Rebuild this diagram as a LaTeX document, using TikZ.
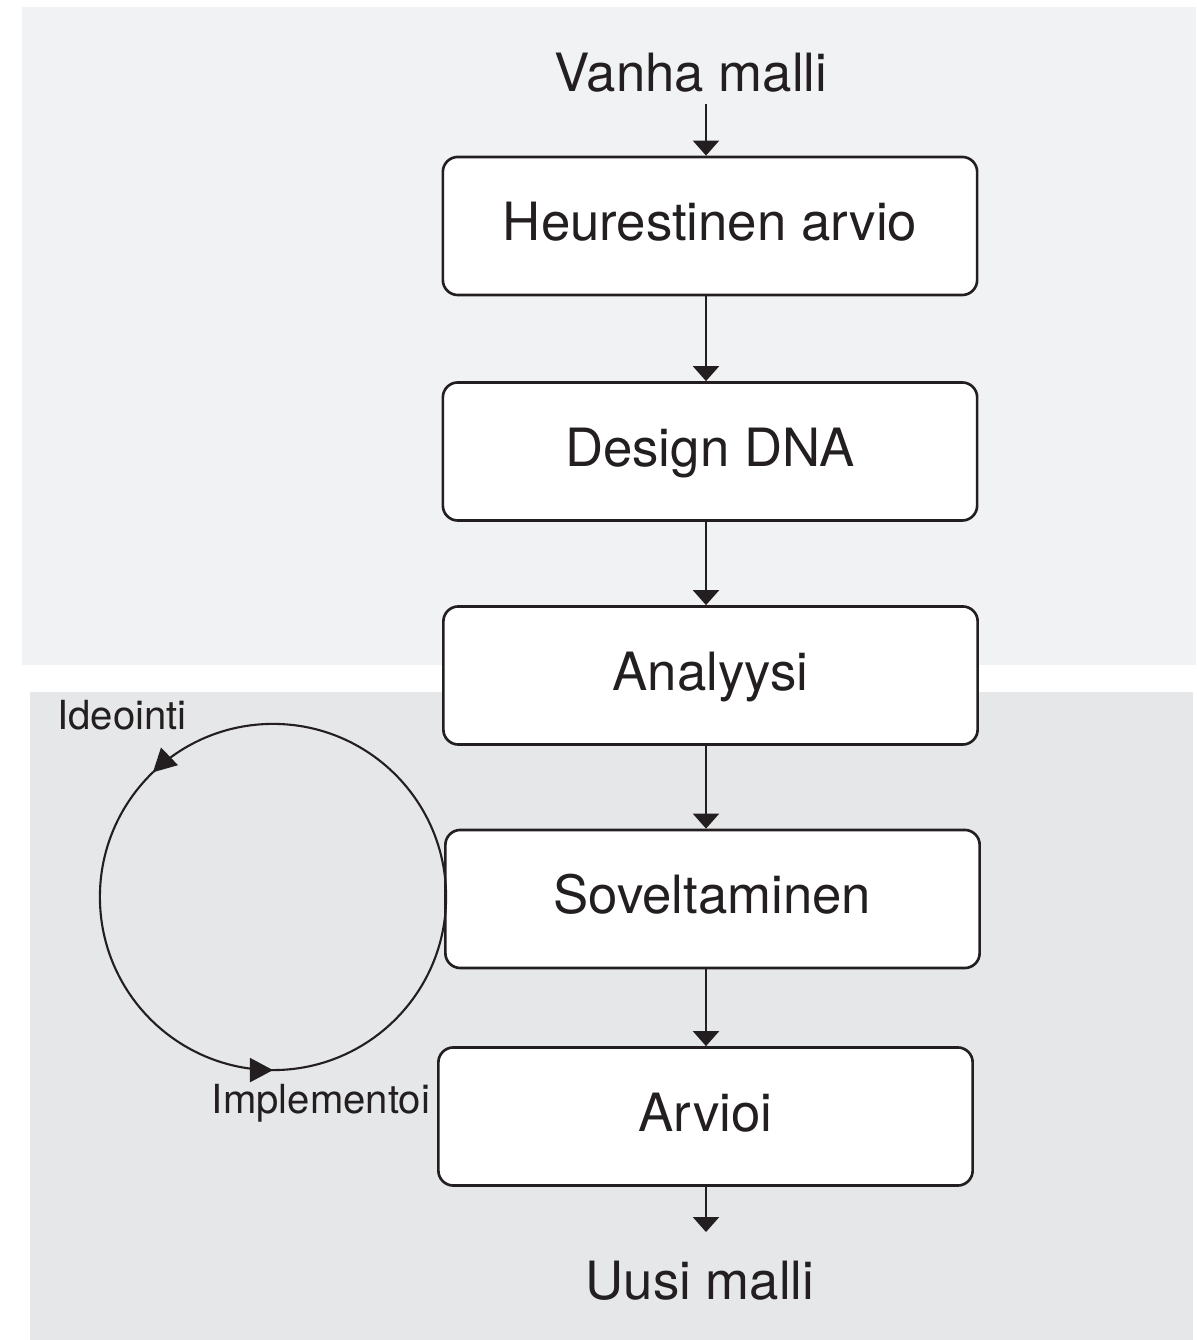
\documentclass[tikz,border=0pt]{standalone}
\usepackage{fontspec}
\setmainfont{TeX Gyre Heros}
\usepackage{xcolor}
\usepackage{tikz}
\usetikzlibrary{positioning,arrows.meta,calc,decorations.markings}
\definecolor{inkcolor}{RGB}{35,31,32}
\definecolor{upperbg}{RGB}{241,242,244}
\definecolor{lowerbg}{RGB}{230,231,233}
\tikzset{
    stage box/.style={rectangle, rounded corners=0.15cm, draw=inkcolor, line width=0.75pt, fill=white, minimum width=5.34cm, minimum height=1.38cm, inner sep=0pt, text height=0.85em, text depth=0pt, text=inkcolor, font=\fontsize{15}{18}\selectfont},
    model label/.style={text depth=0pt, text=inkcolor, font=\fontsize{15}{18}\selectfont},
    loop label/.style={text=inkcolor, font=\fontsize{11.4}{13.5}\selectfont},
    flow arrow/.style={-{Triangle[width=0.26cm, length=0.15cm]}, line width=0.65pt, color=inkcolor},
    loop circle/.style={line width=0.6pt, color=inkcolor, postaction={decorate},
        decoration={markings,
            mark=at position 0.372 with {\arrow{Triangle[width=0.24cm, length=0.23cm]}},
            mark=at position 0.75 with {\arrow{Triangle[width=0.24cm, length=0.23cm]}}}}
}

\begin{document}
\begin{tikzpicture}[x=0.01cm, y=0.01cm]
    \useasboundingbox (0,0) rectangle (1196,1340);

    % Background panels
    \fill[upperbg] (22,675) rectangle (1196,1333);
    \fill[lowerbg] (30,0) rectangle (1193,648);

    % Common axis for the vertical arrows
    \coordinate (axis) at (706,0);

    % Process stages
    \node[stage box] (heur) at (710,1114) {Heurestinen arvio};
    \node[stage box] (dna) at (710,888.5) {Design DNA};
    \node[stage box] (analyysi) at (710.5,664.5) {Analyysi};
    \node[stage box] (sovel) at (712.5,441) {Soveltaminen};
    \node[stage box] (arvioi) at (705.5,223.5) {Arvioi};

    % Old and new model labels
    \node[model label] (vanha) at (691,1268) {Vanha malli};
    \node[model label, inner ysep=0.28cm] (uusi) at (700,60) {Uusi malli};

    % Flow arrows between stages
    \draw[flow arrow] (vanha.south -| axis) -- (heur.north -| axis);
    \draw[flow arrow] (heur.south -| axis) -- (dna.north -| axis);
    \draw[flow arrow] (dna.south -| axis) -- (analyysi.north -| axis);
    \draw[flow arrow] (analyysi.south -| axis) -- (sovel.north -| axis);
    \draw[flow arrow] (sovel.south -| axis) -- (arvioi.north -| axis);
    \draw[flow arrow] (arvioi.south -| axis) -- (uusi.north -| axis);

    % Iteration loop
    \coordinate (loopc) at (273,443);
    \draw[loop circle] (loopc) circle[radius=1.73cm];
    \node[loop label] (ideo) at (122,625) {Ideointi};
    \node[loop label] (impl) at (321,237) {Implementoi};
\end{tikzpicture}
\end{document}
